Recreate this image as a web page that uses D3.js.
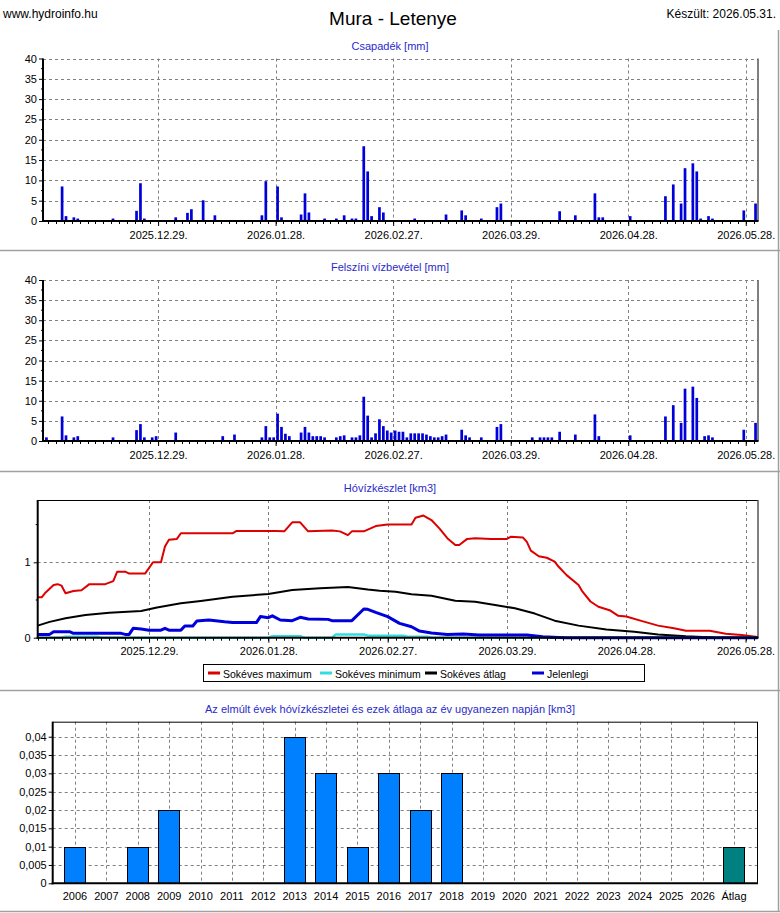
<!DOCTYPE html>
<html>
<head>
<meta charset="utf-8">
<script src="https://cdn.jsdelivr.net/npm/d3@7"></script>
<style>
body { margin: 0; background: #fff; }
text { font-family: "Liberation Sans", Arial, sans-serif; }
</style>
</head>
<body>
<div id="chart"></div>
<script>
// napi csapadék [mm]
var csapadek = [
  ["2025-12-04", 8.5], ["2025-12-05", 1.2], ["2025-12-07", 0.9], ["2025-12-08", 0.6], ["2025-12-17", 0.6],
  ["2025-12-23", 2.5], ["2025-12-24", 9.3], ["2025-12-25", 0.6], ["2025-12-30", 0.25],
  ["2026-01-02", 0.9], ["2026-01-03", 0.25], ["2026-01-05", 2.0], ["2026-01-06", 2.9], ["2026-01-08", 0.25],
  ["2026-01-09", 5.1], ["2026-01-10", 0.25], ["2026-01-12", 1.4], ["2026-01-16", 0.25], ["2026-01-24", 1.4],
  ["2026-01-25", 9.8], ["2026-01-28", 8.5], ["2026-01-29", 0.9],
  ["2026-02-03", 1.6], ["2026-02-04", 6.8], ["2026-02-05", 2.1], ["2026-02-07", 0.25], ["2026-02-08", 0.25],
  ["2026-02-09", 0.6], ["2026-02-12", 0.6], ["2026-02-14", 1.4], ["2026-02-16", 0.6], ["2026-02-17", 0.6],
  ["2026-02-19", 18.4], ["2026-02-20", 12.2], ["2026-02-21", 1.2], ["2026-02-22", 0.25], ["2026-02-23", 3.4],
  ["2026-02-24", 2.1],
  ["2026-03-03", 0.25], ["2026-03-04", 0.6], ["2026-03-11", 0.25], ["2026-03-12", 1.6], ["2026-03-16", 2.6],
  ["2026-03-17", 1.4], ["2026-03-18", 0.25], ["2026-03-21", 0.6], ["2026-03-23", 0.25], ["2026-03-25", 3.4],
  ["2026-03-26", 4.3], ["2026-03-27", 0.25], ["2026-03-30", 0.25], ["2026-03-31", 0.25],
  ["2026-04-10", 2.4], ["2026-04-14", 1.4], ["2026-04-16", 0.25], ["2026-04-19", 6.8], ["2026-04-20", 0.9],
  ["2026-04-21", 0.9], ["2026-04-28", 1.2], ["2026-04-29", 0.25],
  ["2026-05-06", 0.25], ["2026-05-07", 6.1], ["2026-05-08", 0.25], ["2026-05-09", 9.0], ["2026-05-11", 4.3],
  ["2026-05-12", 13.0], ["2026-05-13", 0.25], ["2026-05-14", 14.2], ["2026-05-15", 12.2], ["2026-05-16", 0.6],
  ["2026-05-18", 1.2], ["2026-05-19", 0.6], ["2026-05-20", 0.25], ["2026-05-27", 2.6], ["2026-05-30", 4.3]
];

// felszíni vízbevétel [mm]
var vizbevetel = [
  ["2025-11-30", 0.9],
  ["2025-12-01", 0.25], ["2025-12-02", 0.25], ["2025-12-04", 6.1], ["2025-12-05", 1.4], ["2025-12-06", 0.25],
  ["2025-12-07", 0.9], ["2025-12-08", 1.2], ["2025-12-09", 0.25], ["2025-12-10", 0.25], ["2025-12-11", 0.25],
  ["2025-12-15", 0.25], ["2025-12-17", 0.9], ["2025-12-19", 0.25], ["2025-12-21", 0.25], ["2025-12-23", 2.7],
  ["2025-12-24", 4.2], ["2025-12-25", 0.9], ["2025-12-26", 0.25], ["2025-12-27", 0.9], ["2025-12-28", 1.2],
  ["2025-12-30", 0.25],
  ["2026-01-02", 2.1], ["2026-01-04", 0.25], ["2026-01-06", 0.25], ["2026-01-08", 0.25], ["2026-01-10", 0.25],
  ["2026-01-14", 1.2], ["2026-01-17", 1.6], ["2026-01-19", 0.25], ["2026-01-20", 0.25], ["2026-01-22", 0.25],
  ["2026-01-24", 0.9], ["2026-01-25", 3.7], ["2026-01-26", 0.9], ["2026-01-27", 0.9], ["2026-01-28", 6.8],
  ["2026-01-29", 3.5], ["2026-01-30", 1.8], ["2026-01-31", 1.2],
  ["2026-02-01", 0.25], ["2026-02-02", 0.25], ["2026-02-03", 2.1], ["2026-02-04", 3.5], ["2026-02-05", 2.1],
  ["2026-02-06", 1.2], ["2026-02-07", 1.2], ["2026-02-08", 1.2], ["2026-02-09", 0.9], ["2026-02-10", 0.25],
  ["2026-02-11", 0.25], ["2026-02-12", 0.9], ["2026-02-13", 1.2], ["2026-02-14", 1.4], ["2026-02-15", 0.25],
  ["2026-02-16", 0.9], ["2026-02-17", 0.9], ["2026-02-18", 1.4], ["2026-02-19", 11.0], ["2026-02-20", 6.3],
  ["2026-02-21", 0.9], ["2026-02-22", 1.9], ["2026-02-23", 5.4], ["2026-02-24", 3.7], ["2026-02-25", 2.6],
  ["2026-02-26", 2.1], ["2026-02-27", 2.6], ["2026-02-28", 2.3],
  ["2026-03-01", 2.3], ["2026-03-02", 0.9], ["2026-03-03", 1.9], ["2026-03-04", 1.9], ["2026-03-05", 1.9],
  ["2026-03-06", 1.9], ["2026-03-07", 1.6], ["2026-03-08", 1.2], ["2026-03-09", 0.9], ["2026-03-10", 0.9],
  ["2026-03-11", 1.2], ["2026-03-12", 1.6], ["2026-03-13", 0.25], ["2026-03-14", 0.25], ["2026-03-16", 2.8],
  ["2026-03-17", 1.4], ["2026-03-18", 0.9], ["2026-03-19", 0.25], ["2026-03-20", 0.25], ["2026-03-21", 0.9],
  ["2026-03-22", 0.25], ["2026-03-23", 0.25], ["2026-03-25", 3.5], ["2026-03-26", 4.2], ["2026-03-27", 0.25],
  ["2026-03-29", 0.25], ["2026-03-31", 0.25],
  ["2026-04-02", 0.25], ["2026-04-03", 0.9], ["2026-04-05", 0.9], ["2026-04-06", 0.9], ["2026-04-07", 0.9],
  ["2026-04-08", 0.9], ["2026-04-10", 2.3], ["2026-04-14", 1.6], ["2026-04-19", 6.6], ["2026-04-20", 1.2],
  ["2026-04-28", 1.4],
  ["2026-05-07", 6.1], ["2026-05-09", 8.9], ["2026-05-11", 4.5], ["2026-05-12", 13.0], ["2026-05-14", 13.5],
  ["2026-05-15", 10.7], ["2026-05-17", 1.2], ["2026-05-18", 1.4], ["2026-05-19", 0.9], ["2026-05-20", 0.25],
  ["2026-05-27", 2.8], ["2026-05-30", 4.5]
];

// hóvízkészlet [km3]
var sokevesMax = [
  ["2025-12-01", 0.535], ["2025-12-02", 0.535], ["2025-12-03", 0.6], ["2025-12-05", 0.7], ["2025-12-06", 0.71],
  ["2025-12-07", 0.69], ["2025-12-08", 0.59], ["2025-12-10", 0.62], ["2025-12-12", 0.63], ["2025-12-14", 0.71],
  ["2025-12-18", 0.71], ["2025-12-20", 0.75], ["2025-12-21", 0.875], ["2025-12-23", 0.875], ["2025-12-24", 0.85],
  ["2025-12-28", 0.85], ["2025-12-30", 1.0], ["2026-01-01", 1.0], ["2026-01-02", 1.21], ["2026-01-03", 1.3],
  ["2026-01-05", 1.31], ["2026-01-06", 1.385], ["2026-01-19", 1.385], ["2026-01-20", 1.415], ["2026-01-30", 1.415],
  ["2026-02-01", 1.41], ["2026-02-03", 1.53], ["2026-02-05", 1.53], ["2026-02-07", 1.41], ["2026-02-13", 1.42],
  ["2026-02-15", 1.41], ["2026-02-17", 1.36], ["2026-02-18", 1.41], ["2026-02-21", 1.41], ["2026-02-24", 1.48],
  ["2026-02-27", 1.5], ["2026-03-05", 1.5], ["2026-03-06", 1.59], ["2026-03-08", 1.62], ["2026-03-10", 1.56],
  ["2026-03-12", 1.45], ["2026-03-14", 1.32], ["2026-03-16", 1.23], ["2026-03-17", 1.23], ["2026-03-19", 1.31],
  ["2026-03-21", 1.32], ["2026-03-25", 1.31], ["2026-03-29", 1.31], ["2026-03-30", 1.34], ["2026-04-02", 1.33],
  ["2026-04-03", 1.27], ["2026-04-04", 1.155], ["2026-04-06", 1.08], ["2026-04-08", 1.06], ["2026-04-10", 1.01],
  ["2026-04-11", 0.94], ["2026-04-13", 0.83], ["2026-04-16", 0.7], ["2026-04-17", 0.61], ["2026-04-19", 0.48],
  ["2026-04-21", 0.41], ["2026-04-24", 0.36], ["2026-04-26", 0.29], ["2026-04-28", 0.28], ["2026-05-02", 0.22],
  ["2026-05-06", 0.16], ["2026-05-10", 0.124], ["2026-05-13", 0.093], ["2026-05-19", 0.093], ["2026-05-23", 0.053],
  ["2026-05-27", 0.035], ["2026-05-31", 0.01]
];
var sokevesMin = [
  ["2025-12-01", 0], ["2025-12-07", 0], ["2025-12-08", 0.013], ["2025-12-16", 0.013], ["2025-12-17", 0],
  ["2026-01-28", 0], ["2026-01-29", 0.02], ["2026-02-05", 0.02], ["2026-02-06", 0], ["2026-02-13", 0],
  ["2026-02-14", 0.044], ["2026-02-21", 0.044], ["2026-02-22", 0.027], ["2026-03-03", 0.027], ["2026-03-04", 0.013],
  ["2026-03-09", 0.013], ["2026-03-10", 0], ["2026-05-31", 0]
];
var sokevesAtlag = [
  ["2025-12-01", 0.16], ["2025-12-04", 0.21], ["2025-12-08", 0.257], ["2025-12-13", 0.3], ["2025-12-19", 0.33],
  ["2025-12-27", 0.354], ["2025-12-31", 0.4], ["2026-01-06", 0.456], ["2026-01-11", 0.487], ["2026-01-19", 0.544],
  ["2026-01-28", 0.58], ["2026-02-03", 0.633], ["2026-02-10", 0.655], ["2026-02-17", 0.673], ["2026-02-22", 0.64],
  ["2026-02-25", 0.624], ["2026-03-01", 0.61], ["2026-03-05", 0.575], ["2026-03-10", 0.557], ["2026-03-16", 0.49],
  ["2026-03-21", 0.478], ["2026-03-26", 0.434], ["2026-03-31", 0.39], ["2026-04-05", 0.32], ["2026-04-10", 0.226],
  ["2026-04-16", 0.16], ["2026-04-23", 0.11], ["2026-04-30", 0.08], ["2026-05-06", 0.044], ["2026-05-13", 0.018],
  ["2026-05-20", 0.004], ["2026-05-31", 0]
];
var jelenlegi = [
  ["2025-12-01", 0.044], ["2025-12-04", 0.044], ["2025-12-05", 0.08], ["2025-12-09", 0.08], ["2025-12-10", 0.058],
  ["2025-12-22", 0.058], ["2025-12-23", 0.044], ["2025-12-24", 0.044], ["2025-12-25", 0.124], ["2025-12-27", 0.115],
  ["2025-12-29", 0.1], ["2026-01-01", 0.1], ["2026-01-02", 0.124], ["2026-01-03", 0.1], ["2026-01-06", 0.1],
  ["2026-01-07", 0.155], ["2026-01-09", 0.155], ["2026-01-10", 0.22], ["2026-01-13", 0.235], ["2026-01-17", 0.21],
  ["2026-01-19", 0.2], ["2026-01-25", 0.2], ["2026-01-26", 0.28], ["2026-01-28", 0.265], ["2026-01-29", 0.29],
  ["2026-01-31", 0.235], ["2026-02-03", 0.226], ["2026-02-05", 0.27], ["2026-02-07", 0.248], ["2026-02-12", 0.243],
  ["2026-02-13", 0.226], ["2026-02-18", 0.226], ["2026-02-21", 0.38], ["2026-02-22", 0.376], ["2026-02-24", 0.336],
  ["2026-02-27", 0.28], ["2026-03-02", 0.19], ["2026-03-05", 0.146], ["2026-03-07", 0.088], ["2026-03-10", 0.062],
  ["2026-03-14", 0.044], ["2026-03-18", 0.049], ["2026-03-22", 0.035], ["2026-04-03", 0.035], ["2026-04-07", 0.013],
  ["2026-04-11", 0.004], ["2026-04-13", 0], ["2026-05-31", 0]
];

// az elmúlt évek hóvízkészlete az év ugyanezen napján [km3]
var evek = ["2006", "2007", "2008", "2009", "2010", "2011", "2012", "2013", "2014", "2015", "2016",
            "2017", "2018", "2019", "2020", "2021", "2022", "2023", "2024", "2025", "2026", "Átlag"];
var evesKeszlet = [0.01, 0, 0.01, 0.02, 0, 0, 0, 0.04, 0.03, 0.01, 0.03,
                   0.02, 0.03, 0, 0, 0, 0, 0, 0, 0, 0, 0.01];

var mmTickek = [0, 5, 10, 15, 20, 25, 30, 35, 40];
var km3Tickek = [0, 1];
var evTickek = [0, 0.005, 0.01, 0.015, 0.02, 0.025, 0.03, 0.035, 0.04];

var parse = d3.timeParse("%Y-%m-%d");
var fmtDatum = d3.timeFormat("%Y.%m.%d.");
var alap = new Date(2025, 11, 29);
var foTickek = d3.range(0, 6).map(function (k) { return d3.timeDay.offset(alap, 30 * k); });
var mellekTickek = d3.range(-15, 78).map(function (k) { return d3.timeDay.offset(alap, 2 * k); });

var svg = d3.select("#chart").append("svg")
  .attr("width", 780)
  .attr("height", 913);

// fejléc
svg.append("text").attr("x", 3).attr("y", 18).attr("font-size", 12).text("www.hydroinfo.hu");
svg.append("text").attr("x", 393).attr("y", 25).attr("font-size", 19).attr("text-anchor", "middle").text("Mura - Letenye");
svg.append("text").attr("x", 776).attr("y", 18).attr("font-size", 12).attr("text-anchor", "end").text("Készült: 2026.05.31.");

// panel elválasztók
[250.5, 471.5, 690.5, 911.5].forEach(function (yy) {
  svg.append("line").attr("x1", 0).attr("x2", 780).attr("y1", yy).attr("y2", yy)
    .attr("stroke", "#a0a0a0").attr("stroke-width", 1.5);
});
svg.append("line").attr("x1", 778.5).attr("x2", 778.5).attr("y1", 30).attr("y2", 912)
  .attr("stroke", "#a0a0a0").attr("stroke-width", 1.5);

function cim(szoveg, y) {
  svg.append("text").attr("x", 390).attr("y", y).attr("font-size", 11)
    .attr("text-anchor", "middle").attr("fill", "#2a2ac8").text(szoveg);
}

function racsY(g, y, ertekek, L, R) {
  g.selectAll(null).data(ertekek).join("line")
    .attr("x1", L).attr("x2", R)
    .attr("y1", function (d) { return Math.round(y(d)) + 0.5; })
    .attr("y2", function (d) { return Math.round(y(d)) + 0.5; })
    .attr("stroke", "#808080").attr("stroke-dasharray", "3,3");
}

function racsX(g, x, ertekek, T, B) {
  g.selectAll(null).data(ertekek).join("line")
    .attr("x1", function (d) { return Math.round(x(d)) + 0.5; })
    .attr("x2", function (d) { return Math.round(x(d)) + 0.5; })
    .attr("y1", T).attr("y2", B)
    .attr("stroke", "#808080").attr("stroke-dasharray", "3,3");
}

function stilus(sel) {
  sel.attr("font-size", 11).attr("font-family", "Liberation Sans, Arial, sans-serif");
  sel.select(".domain").remove();
}

function datumTengely(g, x, L, R, B) {
  g.append("g").selectAll("line")
    .data(mellekTickek.filter(function (d) { return x(d) >= L && x(d) <= R; }))
    .join("line")
    .attr("x1", function (d) { return Math.round(x(d)) + 0.5; })
    .attr("x2", function (d) { return Math.round(x(d)) + 0.5; })
    .attr("y1", B).attr("y2", B + 3).attr("stroke", "#000");
  g.append("g").attr("transform", "translate(0," + B + ")")
    .call(d3.axisBottom(x).tickValues(foTickek).tickFormat(fmtDatum).tickSize(5).tickPadding(5))
    .call(stilus);
}

function keret(g, L, T, R, B, tetoFolytonos) {
  if (tetoFolytonos) {
    g.append("line").attr("x1", L).attr("x2", R).attr("y1", T + 0.5).attr("y2", T + 0.5).attr("stroke", "#000");
  }
  g.append("line").attr("x1", R + 0.5).attr("x2", R + 0.5).attr("y1", T).attr("y2", B).attr("stroke", "#000");
  g.append("line").attr("x1", L).attr("x2", L).attr("y1", T).attr("y2", B + 1).attr("stroke", "#000").attr("stroke-width", 2);
  g.append("line").attr("x1", L - 1).attr("x2", R + 1).attr("y1", B).attr("y2", B).attr("stroke", "#000").attr("stroke-width", 2);
}

// napi oszlopdiagram (csapadék, vízbevétel)
function oszlopPanel(adat, szoveg, cimY, T, B) {
  var L = 43, R = 757.5;
  var x = d3.scaleTime().domain([new Date(2025, 10, 29, 15), new Date(2026, 4, 31)]).range([L, R]);
  var y = d3.scaleLinear().domain([0, 40]).range([B, T]);
  var g = svg.append("g");
  cim(szoveg, cimY);
  racsY(g, y, mmTickek.slice(1), L, R);
  racsX(g, x, foTickek, T, B);
  g.selectAll("rect").data(adat).join("rect")
    .attr("x", function (d) { return x(d3.timeHour.offset(parse(d[0]), 12)) - 1.35; })
    .attr("width", 2.7)
    .attr("y", function (d) { return y(d[1]); })
    .attr("height", function (d) { return y(0) - y(d[1]); })
    .attr("fill", "#0000d8");
  var minor = d3.range(2.5, 40, 5);
  g.selectAll(null).data(minor).join("line")
    .attr("x1", L - 2).attr("x2", L).attr("y1", function (d) { return y(d); }).attr("y2", function (d) { return y(d); })
    .attr("stroke", "#000");
  g.append("g").attr("transform", "translate(" + L + ",0)")
    .call(d3.axisLeft(y).tickValues(mmTickek).tickSize(4).tickPadding(2))
    .call(stilus);
  datumTengely(g, x, L, R, B);
  keret(g, L, T, R, B, false);
}

oszlopPanel(csapadek, "Csapadék [mm]", 50, 58.5, 221);
oszlopPanel(vizbevetel, "Felszíni vízbevétel [mm]", 271, 280, 441);

// hóvízkészlet vonaldiagram
(function () {
  var L = 37.7, R = 757.5, T = 500, B = 637.7;
  var x = d3.scaleTime().domain([new Date(2025, 11, 1), new Date(2026, 4, 31)]).range([L, R]);
  var y = d3.scaleLinear().domain([0, 1.826]).range([B, T]);
  var g = svg.append("g");
  cim("Hóvízkészlet [km3]", 492);
  racsY(g, y, [1], L, R);
  racsX(g, x, foTickek, T, B);

  var vonal = d3.line()
    .x(function (d) { return x(parse(d[0])); })
    .y(function (d) { return y(d[1]); });
  var sorok = [
    { adat: sokevesMax, szin: "#dd0000", w: 2 },
    { adat: sokevesMin, szin: "#33dddd", w: 2.5 },
    { adat: sokevesAtlag, szin: "#000000", w: 2 },
    { adat: jelenlegi, szin: "#0000dd", w: 3 }
  ];
  sorok.forEach(function (s) {
    g.append("path").datum(s.adat).attr("d", vonal)
      .attr("fill", "none").attr("stroke", s.szin).attr("stroke-width", s.w)
      .attr("stroke-linejoin", "round");
  });

  g.selectAll(null).data([0.5, 1.5]).join("line")
    .attr("x1", L - 2).attr("x2", L).attr("y1", function (d) { return y(d); }).attr("y2", function (d) { return y(d); })
    .attr("stroke", "#000");
  g.append("g").attr("transform", "translate(" + L + ",0)")
    .call(d3.axisLeft(y).tickValues(km3Tickek).tickFormat(d3.format("d")).tickSize(4).tickPadding(3))
    .call(stilus);
  datumTengely(g, x, L, R, B);
  keret(g, L, T, R, B, true);

  // jelmagyarázat
  var lg = svg.append("g");
  lg.append("rect").attr("x", 203.5).attr("y", 664.5).attr("width", 441).attr("height", 17)
    .attr("fill", "#fff").attr("stroke", "#000");
  var tetelek = [
    { nev: "Sokéves maximum", szin: "#dd0000", x: 208 },
    { nev: "Sokéves minimum", szin: "#33dddd", x: 320 },
    { nev: "Sokéves átlag", szin: "#000000", x: 425 },
    { nev: "Jelenlegi", szin: "#0000dd", x: 532 }
  ];
  tetelek.forEach(function (t) {
    lg.append("line").attr("x1", t.x).attr("x2", t.x + 12).attr("y1", 673).attr("y2", 673)
      .attr("stroke", t.szin).attr("stroke-width", 3);
    lg.append("text").attr("x", t.x + 15).attr("y", 677.5).attr("font-size", 10.5).text(t.nev);
  });
})();

// évek szerinti oszlopdiagram
(function () {
  var L = 52.7, R = 757, T = 721.7, B = 883.3;
  var x = d3.scaleBand().domain(evek).range([59.3, 749.7]).paddingInner(0.32).paddingOuter(0.16);
  var y = d3.scaleLinear().domain([0, 0.0441]).range([B, T]);
  var g = svg.append("g");
  cim("Az elmúlt évek hóvízkészletei és ezek átlaga az év ugyanezen napján [km3]", 713);
  racsY(g, y, evTickek.slice(1), L, R);
  g.selectAll(null).data(evek).join("line")
    .attr("x1", function (d) { return Math.round(x(d) + x.bandwidth() / 2) + 0.5; })
    .attr("x2", function (d) { return Math.round(x(d) + x.bandwidth() / 2) + 0.5; })
    .attr("y1", T).attr("y2", B)
    .attr("stroke", "#808080").attr("stroke-dasharray", "3,3");

  var oszlopok = evek.map(function (e, i) { return [e, evesKeszlet[i]]; })
    .filter(function (d) { return d[1] > 0; });
  g.selectAll("rect").data(oszlopok).join("rect")
    .attr("x", function (d) { return Math.round(x(d[0])) + 0.5; })
    .attr("width", Math.round(x.bandwidth()))
    .attr("y", function (d) { return Math.round(y(d[1])) + 0.5; })
    .attr("height", function (d) { return Math.round(y(0)) - Math.round(y(d[1])); })
    .attr("fill", function (d) { return d[0] === "Átlag" ? "#008080" : "#0080ff"; })
    .attr("stroke", "#000");

  g.append("g").attr("transform", "translate(" + L + ",0)")
    .call(d3.axisLeft(y).tickValues(evTickek)
      .tickFormat(function (d) { return String(+d.toFixed(3)).replace(".", ","); })
      .tickSize(4).tickPadding(2))
    .call(stilus);
  g.append("g").attr("transform", "translate(0," + B + ")")
    .call(d3.axisBottom(x).tickSize(0).tickPadding(9))
    .call(stilus);
  keret(g, L, T, R, B, true);
})();
</script>
</body>
</html>
